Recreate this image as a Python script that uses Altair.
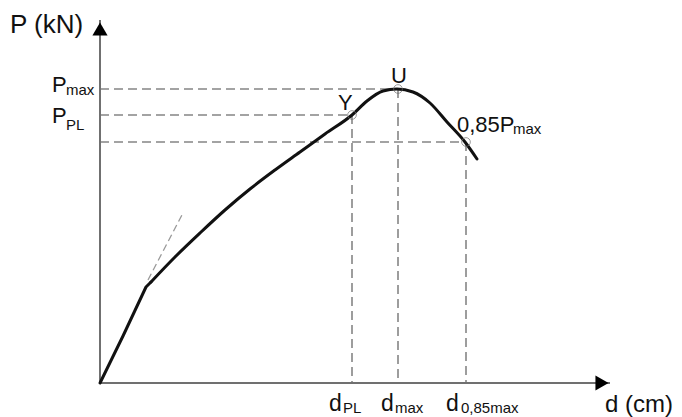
import altair as alt
import pandas as pd

# Curve (d in arbitrary units, P in arbitrary units)
# elastic branch (straight) up to the knee
elastic_d = [0.0, 2.3, 4.6, 5.1]
elastic_p = [0.0, 4.7, 9.6, 10.1]
# post-knee branch up to the descending part
plastic_d = [5.1, 7.5, 10.0, 12.5, 15.0, 17.5, 20.0, 22.5, 25.2, 26.7, 28.3, 29.7, 31.3, 33.0, 34.7, 36.5, 37.7]
plastic_p = [10.1, 12.6, 15.0, 17.3, 19.4, 21.3, 23.1, 24.9, 26.8, 28.2, 29.2, 29.4, 29.1, 28.0, 26.1, 24.1, 22.4]

# Key points: Y (proportional limit), U (max), 0.85 Pmax
key_names = ["Y", "U", "0,85Pmax"]
key_d = [25.2, 29.8, 36.6]
key_p = [26.8, 29.4, 24.1]

# Initial-stiffness tangent (dashed)
tan_d = [4.8, 8.3]
tan_p = [10.3, 17.0]

# Axes extents
x_axis_end = 51.0
y_axis_end = 36.3

FONT = "Liberation Sans"
GRAY = "#707070"
DGRAY = "#858585"
INK = "#111111"

X = alt.Scale(domain=[-9.2, 57.4], nice=False, zero=False)
Y = alt.Scale(domain=[-3.4, 37.5], nice=False, zero=False)

def xe(field):
    return alt.X(field, type="quantitative", scale=X, axis=None)

def ye(field):
    return alt.Y(field, type="quantitative", scale=Y, axis=None)

elastic_df = pd.DataFrame({"d": elastic_d, "p": elastic_p})
plastic_df = pd.DataFrame({"d": plastic_d, "p": plastic_p})
key_df = pd.DataFrame({"name": key_names, "d": key_d, "p": key_p})

# dashed guides: horizontal from axis to point, vertical from point to axis
hx = pd.DataFrame({"x1": [0.0] * 3, "x2": key_d, "y1": key_p, "y2": key_p})
vx = pd.DataFrame({"x1": key_d, "x2": key_d, "y1": key_p, "y2": [0.0] * 3})
guides_df = pd.concat([hx, vx], ignore_index=True)

axes_df = pd.DataFrame({"x1": [0.0, 0.0], "x2": [x_axis_end, 0.0],
                        "y1": [0.0, 0.0], "y2": [0.0, y_axis_end]})
tan_df = pd.DataFrame({"x1": [tan_d[0]], "x2": [tan_d[1]], "y1": [tan_p[0]], "y2": [tan_p[1]]})

axes = alt.Chart(axes_df).mark_rule(color=GRAY, strokeWidth=2).encode(
    x=xe("x1"), x2="x2", y=ye("y1"), y2="y2")

guides = alt.Chart(guides_df).mark_rule(color=DGRAY, strokeWidth=1.6, strokeDash=[9, 5]).encode(
    x=xe("x1"), x2="x2", y=ye("y1"), y2="y2")

tangent = alt.Chart(tan_df).mark_rule(color="#999999", strokeWidth=1.3, strokeDash=[7, 4]).encode(
    x=xe("x1"), x2="x2", y=ye("y1"), y2="y2")

line1 = alt.Chart(elastic_df).mark_line(color=INK, strokeWidth=3, interpolate="linear",
                                        strokeJoin="round", strokeCap="round").encode(
    x=xe("d"), y=ye("p"), order="d:Q")
line2 = alt.Chart(plastic_df).mark_line(color=INK, strokeWidth=3, interpolate="monotone",
                                        strokeCap="round").encode(
    x=xe("d"), y=ye("p"), order="d:Q")

circles = alt.Chart(key_df).mark_point(shape="circle", size=75, filled=False,
                                        color=GRAY, strokeWidth=1).encode(x=xe("d"), y=ye("p"))

arrows_df = pd.DataFrame({"x": [0.0, 50.2], "y": [35.4, 0.0], "shape": ["triangle-up", "triangle-right"]})
arrows = alt.Chart(arrows_df).mark_point(filled=True, color="#000000", opacity=1, size=230).encode(
    x=xe("x"), y=ye("y"), shape=alt.Shape("shape:N", scale=None))

# Text labels (main parts and subscripts)
main_txt = ["P (kN)", "P", "P", "Y", "U", "0,85P", "d", "d", "d", "d (cm)"]
main_x = [-9.0, -4.8, -4.8, 23.8, 29.1, 35.7, 22.9, 28.1, 34.6, 50.5]
main_y = [35.0, 29.1, 26.0, 27.3, 30.0, 25.1, -2.8, -2.8, -2.8, -2.9]
main_size = [26, 22, 22, 22, 22, 22, 23, 23, 23, 24]

sub_txt = ["max", "PL", "max", "PL", "max", "0,85max"]
sub_x = [-3.4, -3.4, 41.3, 24.3, 29.5, 36.1]
sub_y = [28.8, 25.3, 24.9, -3.0, -3.0, -3.0]

main_df = pd.DataFrame({"t": main_txt, "x": main_x, "y": main_y, "s": main_size})
sub_df = pd.DataFrame({"t": sub_txt, "x": sub_x, "y": sub_y})

main_text = alt.Chart(main_df).mark_text(font=FONT, align="left", baseline="alphabetic", color=INK).encode(
    x=xe("x"), y=ye("y"), text="t:N", size=alt.Size("s:Q", scale=None))
sub_text = alt.Chart(sub_df).mark_text(font=FONT, fontSize=15, align="left", baseline="alphabetic", color=INK).encode(
    x=xe("x"), y=ye("y"), text="t:N")

chart = alt.layer(guides, tangent, axes, arrows, line1, line2, circles, main_text, sub_text).properties(
    width=666, height=409, padding=0, autosize=alt.AutoSizeParams(type="none"),
    background="white"
).configure_view(stroke=None)

chart.save("out.html", embed_options={"renderer": "svg", "actions": False})
